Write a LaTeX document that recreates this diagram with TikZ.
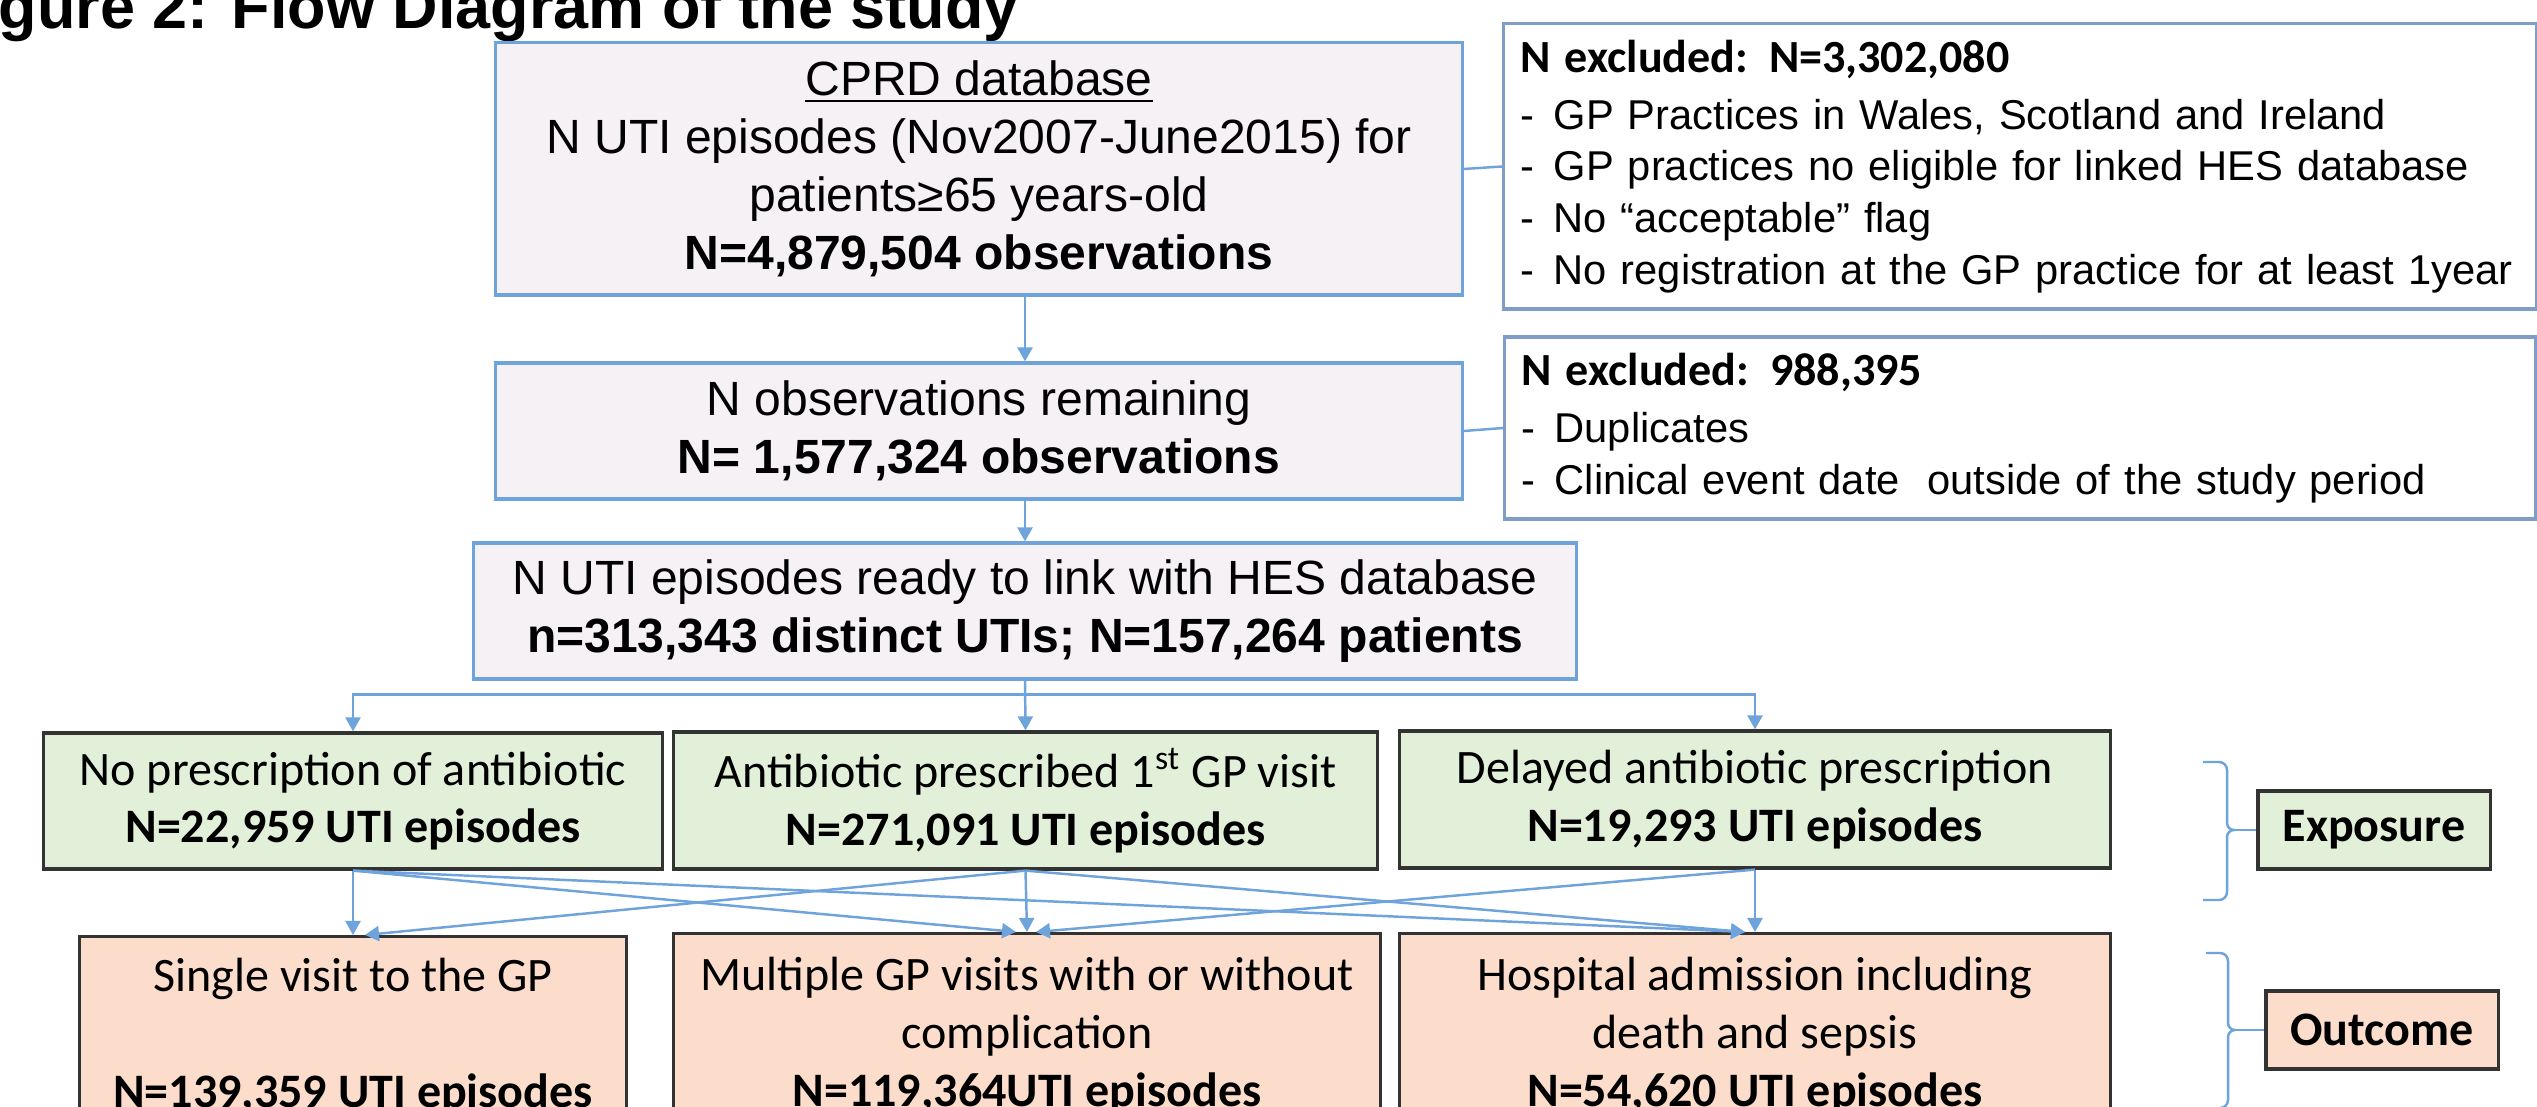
\documentclass[tikz,border=0pt]{standalone}
\usepackage{fontspec}
\setmainfont{Liberation Sans}
\newfontfamily\calibri{Carlito}
\usetikzlibrary{arrows.meta,calc}
\definecolor{cprdblue}{HTML}{6FA3DC}
\definecolor{cprdbg}{HTML}{F5F1F5}
\definecolor{exclframe}{HTML}{7F9DC6}
\definecolor{expgreen}{HTML}{E2EFD9}
\definecolor{outsalmon}{HTML}{FCDCCB}
\definecolor{darkframe}{HTML}{333333}
\newcommand\exdash{\makebox[0.33cm][l]{-}}

\begin{document}
\begin{tikzpicture}[x=0.01cm,y=-0.01cm,
  arr/.style={draw=cprdblue,line width=0.7pt,-{Triangle[width=0.15cm,length=0.14cm]}},
  link/.style={draw=cprdblue,line width=0.7pt},
  flow/.style={draw=cprdblue,fill=cprdbg,line width=0.9pt,align=center,inner sep=0pt,font=\fontsize{13.66}{16.5}\selectfont},
  excl/.style={draw=exclframe,fill=white,line width=0.9pt,align=left,inner xsep=0.17cm,inner ysep=0pt,font=\fontsize{11.85}{14.7}\selectfont},
  expbox/.style={draw=darkframe,fill=expgreen,line width=0.9pt,align=center,inner sep=0pt,font=\calibri\fontsize{13.66}{16.4}\selectfont},
  outbox/.style={expbox,fill=outsalmon},
  tag/.style={font=\calibri\bfseries\fontsize{13.66}{16}\selectfont,minimum width=2.32cm,minimum height=0.78cm},
  brc/.style={draw=cprdblue,line width=0.7pt}]
  \useasboundingbox (0,0) rectangle (2537,1107);
  \clip (0,0) rectangle (2537,1107);

  % title, cut by the page edge
  \node[anchor=base west,inner sep=0pt,font=\bfseries\fontsize{17.9}{20}\selectfont] (title) at (-2,29) {gure 2: Flow Diagram of the study};

  % CPRD selection
  \node[flow,minimum width=9.66cm,minimum height=2.52cm] (cprd) at (979,169) {\underline{CPRD database}\\N UTI episodes (Nov2007-June2015) for\\patients≥65 years-old\\\textbf{N=4,879,504 observations}};
  \node[flow,minimum width=9.66cm,minimum height=1.36cm] (remain) at (979,431) {N observations remaining\\\textbf{N= 1,577,324 observations}};
  \node[flow,minimum width=11.02cm,minimum height=1.36cm] (ready) at (1025,611) {N UTI episodes ready to link with HES database\\\textbf{n=313,343 distinct UTIs; N=157,264 patients}};

  % exclusions
  \node[excl,text width=9.98cm,minimum height=2.85cm] (excl1) at (2020,166.5) {{\calibri\bfseries\fontsize{13.1}{14.7}\selectfont N excluded: N=3,302,080}\\[0.05cm]
    \exdash GP Practices in Wales, Scotland and Ireland\\
    \exdash GP practices no eligible for linked HES database\\
    \exdash No “acceptable” flag\\
    \exdash No registration at the GP practice for at least 1year};
  \node[excl,text width=9.96cm,minimum height=1.82cm] (excl2) at (2020,428) {{\calibri\bfseries\fontsize{13.1}{14.7}\selectfont N excluded: 988,395}\\[0.05cm]
    \exdash Duplicates\\
    \exdash Clinical event date \ outside of the study period};

  % exposure
  \node[expbox,minimum width=6.18cm,minimum height=1.36cm] (exp1) at (353,801) {No prescription of antibiotic\\\textbf{N=22,959 UTI episodes}};
  \node[expbox,minimum width=7.03cm,minimum height=1.37cm] (exp2) at (1025.5,800.5) {Antibiotic prescribed 1\textsuperscript{st} GP visit\\\textbf{N=271,091 UTI episodes}};
  \node[expbox,minimum width=7.10cm,minimum height=1.37cm] (exp3) at (1755,799.5) {Delayed antibiotic prescription\\\textbf{N=19,293 UTI episodes}};

  % outcome
  \node[outbox,minimum width=5.46cm,minimum height=2.0cm,anchor=north,font=\calibri\fontsize{13.66}{16.5}\selectfont] (out1) at (353,935) {Single visit to the GP\\\mbox{}\\\textbf{N=139,359 UTI episodes}};
  \node[outbox,minimum width=7.06cm,minimum height=2.03cm,anchor=north,font=\calibri\fontsize{13.66}{16.5}\selectfont] (out2) at (1027,932) {Multiple GP visits with or without\\complication\\\textbf{N=119,364UTI episodes}};
  \node[outbox,minimum width=7.10cm,minimum height=2.03cm,anchor=north,font=\calibri\fontsize{13.66}{16.5}\selectfont] (out3) at (1755,932) {Hospital admission including\\death and sepsis\\\textbf{N=54,620 UTI episodes}};

  % side tags
  \node[expbox,tag] (explab) at (2374,830) {Exposure};
  \node[outbox,tag] (outlab) at (2382,1030) {Outcome};

  \draw[arr] (cprd.south -| ready.north) -- (remain.north -| ready.north);
  \draw[link] (cprd.east) -- (excl1.west);
  \draw[arr] (remain.south -| ready.north) -- (ready.north);
  \draw[link] (remain.east) -- (excl2.west);

  \draw[arr] (ready.south) -- (exp2.north);
  \coordinate (split) at ($(ready.south)+(0,14)$);
  \draw[arr] (split) -| (exp1.north);
  \draw[arr] (split) -| (exp3.north);

  \foreach \a/\b/\s in {exp1/out1/0,exp1/out2/-0.11,exp1/out3/-0.1,exp2/out1/0.12,exp2/out2/0,exp2/out3/-0.1,exp3/out2/0.09,exp3/out3/0}
    \draw[arr] (\a.south) -- ([xshift=\s cm]\b.north);

  % braces
  \coordinate (exptip) at (2234,830);
  \coordinate (outtip) at (2235,1030);
  \draw[brc] (2203,762) -- (2219,762) to[out=0,in=90] (2227,770) -- (2227,823) to[out=-90,in=180] (exptip) to[out=180,in=90] (2227,837) -- (2227,892) to[out=-90,in=0] (2219,900) -- (2203,900);
  \draw[brc] (exptip) -- (explab.west);
  \draw[brc] (2206,953) -- (2220,953) to[out=0,in=90] (2228,961) -- (2228,1023) to[out=-90,in=180] (outtip) to[out=180,in=90] (2228,1037) -- (2228,1100) to[out=-90,in=0] (2220,1108);
  \draw[brc] (outtip) -- (outlab.west);
\end{tikzpicture}
\end{document}
